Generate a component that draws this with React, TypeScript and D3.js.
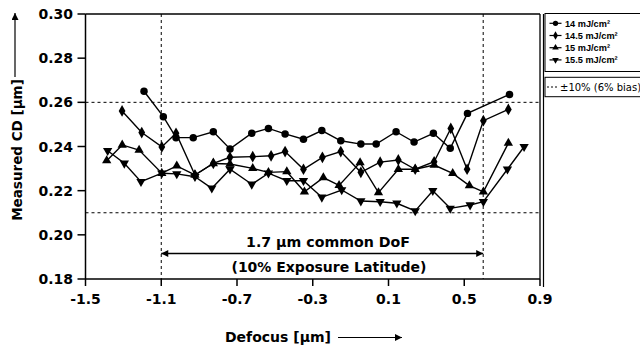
import React from "react";
import * as d3 from "d3";

// ---- data ----
const xTicks = [-1.5, -1.1, -0.7, -0.3, 0.1, 0.5, 0.9];
const yTicks = [0.18, 0.2, 0.22, 0.24, 0.26, 0.28, 0.3];
const seriesNames = ["14 mJ/cm²", "14.5 mJ/cm²", "15 mJ/cm²", "15.5 mJ/cm²"];
const seriesSymbols = ["circle", "diamond", "triangleUp", "triangleDown"];

const s14X = [-1.191, -1.089, -1.022, -0.931, -0.825, -0.737, -0.622, -0.534, -0.446, -0.349, -0.252, -0.152, -0.046, 0.035, 0.14, 0.235, 0.337, 0.426, 0.517, 0.739];
const s14Y = [0.265, 0.2535, 0.244, 0.244, 0.2467, 0.2389, 0.246, 0.2482, 0.2457, 0.2433, 0.2472, 0.2426, 0.2411, 0.2411, 0.2467, 0.242, 0.246, 0.2392, 0.255, 0.2636];

const s145X = [-1.307, -1.203, -1.097, -1.022, -0.922, -0.825, -0.737, -0.617, -0.52, -0.446, -0.349, -0.249, -0.152, -0.046, 0.056, 0.152, 0.241, 0.341, 0.429, 0.515, 0.601, 0.733];
const s145Y = [0.2561, 0.2463, 0.2398, 0.246, 0.2271, 0.2324, 0.2351, 0.2354, 0.2358, 0.2377, 0.2297, 0.2351, 0.2377, 0.2283, 0.2329, 0.2339, 0.2297, 0.2331, 0.2482, 0.2297, 0.2517, 0.2568];

const s15X = [-1.388, -1.306, -1.217, -1.097, -1.018, -0.922, -0.825, -0.737, -0.617, -0.534, -0.437, -0.344, -0.244, -0.161, -0.05, 0.047, 0.152, 0.241, 0.341, 0.439, 0.527, 0.601, 0.733];
const s15Y = [0.2336, 0.2407, 0.2384, 0.2279, 0.2312, 0.2271, 0.2323, 0.2321, 0.2301, 0.2283, 0.2286, 0.2195, 0.2259, 0.2224, 0.2327, 0.2191, 0.2297, 0.2297, 0.2316, 0.2278, 0.2223, 0.2195, 0.2415];

const s155X = [-1.383, -1.295, -1.207, -1.097, -1.018, -0.922, -0.833, -0.737, -0.622, -0.534, -0.437, -0.349, -0.252, -0.147, -0.046, 0.056, 0.144, 0.241, 0.334, 0.426, 0.531, 0.601, 0.728, 0.816];
const s155Y = [0.2381, 0.2324, 0.2241, 0.2279, 0.2276, 0.2263, 0.2211, 0.2297, 0.2229, 0.2279, 0.2245, 0.2245, 0.217, 0.2203, 0.2153, 0.215, 0.2143, 0.2108, 0.22, 0.212, 0.2135, 0.215, 0.2297, 0.2399];

const specLimits = [0.26, 0.21];
const dofBounds = [-1.1, 0.6];
const dofLabel = "1.7 µm common DoF";
const dofSub = "(10% Exposure Latitude)";
const specLegend = "±10% (6% bias)";

const W = 640;
const H = 349;
const FONT = "DejaVu Sans, Verdana, sans-serif";

function symbolPath(kind: string, size: number) {
  if (kind === "circle") return d3.symbol().type(d3.symbolCircle).size(size)()!;
  if (kind === "diamond") return d3.symbol().type(d3.symbolDiamond).size(size * 0.9)()!;
  return d3.symbol().type(d3.symbolTriangle).size(size * 0.85)()!;
}

export default function App() {
  const x = d3.scaleLinear().domain([-1.5, 0.9]).range([85.5, 540]);
  const y = d3.scaleLinear().domain([0.18, 0.3]).range([279, 14]);

  const allSeries = [
    { xs: s14X, ys: s14Y },
    { xs: s145X, ys: s145Y },
    { xs: s15X, ys: s15Y },
    { xs: s155X, ys: s155Y },
  ];

  const line = d3
    .line<[number, number]>()
    .x((d) => x(d[0]))
    .y((d) => y(d[1]));

  const x0 = x.range()[0];
  const x1 = x.range()[1];
  const yTop = y.range()[1];
  const yBot = y.range()[0];

  const markerSize = 44;

  return (
    <svg
      width={W}
      height={H}
      style={{ position: "absolute", left: 0, top: 0, background: "#fff" }}
      fontFamily={FONT}
    >
      <defs>
        <marker id="ah" viewBox="0 0 10 10" refX="10" refY="5" markerWidth="9" markerHeight="7" markerUnits="userSpaceOnUse" orient="auto-start-reverse">
          <path d="M0,0 L10,5 L0,10 z" fill="#000" />
        </marker>
      </defs>

      {/* dashed guides */}
      {specLimits.map((v, i) => (
        <line key={"h" + i} x1={x0} x2={x1} y1={y(v)} y2={y(v)} stroke="#000" strokeWidth={1} strokeDasharray="3,3" />
      ))}
      {dofBounds.map((v, i) => (
        <line key={"v" + i} x1={x(v)} x2={x(v)} y1={yTop} y2={yBot} stroke="#000" strokeWidth={1} strokeDasharray="3,3" />
      ))}

      {/* frame */}
      <line x1={x0} x2={x1} y1={yTop} y2={yTop} stroke="#000" strokeWidth={1.3} />
      <line x1={x1} x2={x1} y1={yTop} y2={yBot} stroke="#000" strokeWidth={1.3} />
      <line x1={543.5} x2={543.5} y1={yTop} y2={287} stroke="#000" strokeWidth={1.2} />
      <line x1={x0} x2={x0} y1={yTop} y2={yBot} stroke="#000" strokeWidth={1.5} />
      <line x1={x0} x2={x1} y1={yBot} y2={yBot} stroke="#000" strokeWidth={1.5} />

      {/* y ticks */}
      {yTicks.map((t) => (
        <g key={"yt" + t}>
          <line x1={x0 - 8} x2={x0} y1={y(t)} y2={y(t)} stroke="#000" strokeWidth={1.5} />
          <text x={73} y={y(t) + 5} textAnchor="end" fontSize={14} fontWeight="bold">
            {t.toFixed(2)}
          </text>
        </g>
      ))}
      {/* x ticks */}
      {xTicks.map((t) => (
        <g key={"xt" + t}>
          <line x1={x(t)} x2={x(t)} y1={yBot} y2={yBot + 7} stroke="#000" strokeWidth={1.5} />
          <text x={x(t)} y={304} textAnchor="middle" fontSize={14} fontWeight="bold">
            {t.toFixed(1)}
          </text>
        </g>
      ))}

      {/* series */}
      {allSeries.map((s, i) => {
        const pts: [number, number][] = s.xs.map((v, j) => [v, s.ys[j]]);
        const p = symbolPath(seriesSymbols[i], markerSize);
        return (
          <g key={"s" + i}>
            <path d={line(pts)!} fill="none" stroke="#000" strokeWidth={1.4} />
            {pts.map((d, j) => (
              <path
                key={j}
                d={p}
                transform={`translate(${x(d[0])},${y(d[1])})${seriesSymbols[i] === "triangleDown" ? " rotate(180)" : ""}`}
                fill="#000"
              />
            ))}
          </g>
        );
      })}

      {/* DoF annotation */}
      <text x={328} y={247} textAnchor="middle" fontSize={14.2} fontWeight="bold">
        {dofLabel}
      </text>
      <line x1={x(dofBounds[0])} x2={x(dofBounds[1])} y1={253.5} y2={253.5} stroke="#000" strokeWidth={1.4} markerStart="url(#ah)" markerEnd="url(#ah)" />
      <text x={329} y={272} textAnchor="middle" fontSize={14} fontWeight="bold">
        {dofSub}
      </text>

      {/* axis titles */}
      <text x={278} y={342} textAnchor="middle" fontSize={14} fontWeight="bold">
        Defocus [µm]
      </text>
      <line x1={338} x2={402} y1={337.5} y2={337.5} stroke="#000" strokeWidth={1.2} markerEnd="url(#ah)" />
      <text transform="translate(21.5,150) rotate(-90)" textAnchor="middle" fontSize={13.5} fontWeight="bold">
        Measured CD [µm]
      </text>
      <line x1={15} x2={15} y1={77} y2={13} stroke="#000" strokeWidth={1.2} markerEnd="url(#ah)" />

      {/* legend */}
      <rect x={545} y={13.5} width={120} height={58} fill="#fff" stroke="#000" strokeWidth={1} />
      {seriesNames.map((n, i) => {
        const ly = 23.3 + i * 12.2;
        const p = symbolPath(seriesSymbols[i], 22);
        return (
          <g key={"lg" + i}>
            <line x1={549.5} x2={561.5} y1={ly} y2={ly} stroke="#000" strokeWidth={1.2} />
            <path d={p} transform={`translate(555.5,${ly})${seriesSymbols[i] === "triangleDown" ? " rotate(180)" : ""}`} fill="#000" />
            <text x={565} y={ly + 3.4} fontSize={9.2} fontWeight="bold" fontFamily="Liberation Sans, Arial, sans-serif">
              {n}
            </text>
          </g>
        );
      })}
      <rect x={545} y={77.3} width={120} height={19.4} fill="#fff" stroke="#000" strokeWidth={1} />
      <line x1={547} x2={558} y1={87} y2={87} stroke="#000" strokeWidth={1} strokeDasharray="2,2" />
      <text x={560} y={90.5} fontSize={10}>
        {specLegend}
      </text>
    </svg>
  );
}
